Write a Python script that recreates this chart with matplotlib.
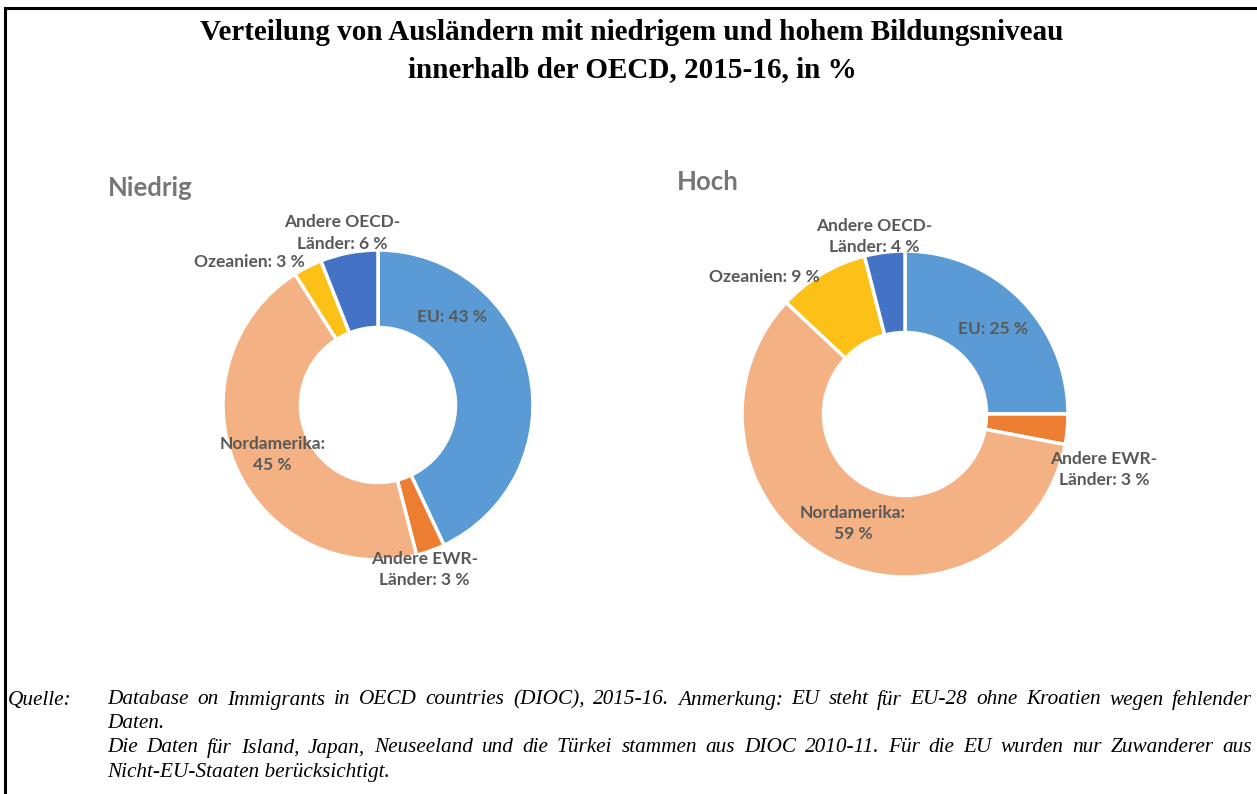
import matplotlib
matplotlib.use("Agg")
import matplotlib.pyplot as plt
from matplotlib.lines import Line2D

# Daten
kategorien = ["EU", "Andere EWR-Länder", "Nordamerika", "Ozeanien", "Andere OECD-Länder"]
niedrig = [43, 3, 45, 3, 6]
hoch = [25, 3, 59, 9, 4]
labels_niedrig = ["EU: 43 %", "Andere EWR-\nLänder: 3 %", "Nordamerika:\n45 %", "Ozeanien: 3 %", "Andere OECD-\nLänder: 6 %"]
labels_hoch = ["EU: 25 %", "Andere EWR-\nLänder: 3 %", "Nordamerika:\n59 %", "Ozeanien: 9 %", "Andere OECD-\nLänder: 4 %"]
farben = ["#5B9BD5", "#ED7D31", "#F4B183", "#FCC016", "#4472C4"]

titel = "Verteilung von Ausländern mit niedrigem und hohem Bildungsniveau\ninnerhalb der OECD, 2015-16, in %"
fussnote = [
    ("Database on Immigrants in OECD countries (DIOC), 2015-16. Anmerkung: EU steht für EU-28 ohne Kroatien wegen fehlender", True),
    ("Daten.", False),
    ("Die Daten für Island, Japan, Neuseeland und die Türkei stammen aus DIOC 2010-11. Für die EU wurden nur Zuwanderer aus", True),
    ("Nicht-EU-Staaten berücksichtigt.", False),
]

W, H = 1257, 794
fig = plt.figure(figsize=(W / 100, H / 100), dpi=100)

def px_axes(cx, cy, r):
    return fig.add_axes([(cx - r) / W, (H - cy - r) / H, 2 * r / W, 2 * r / H])

# Rahmen oben und links
fig.add_artist(Line2D([5 / W, 1], [1 - 8 / H, 1 - 8 / H], color="black", lw=2.2))
fig.add_artist(Line2D([5 / W, 5 / W], [0, 1 - 8 / H], color="black", lw=2.2))

fig.text(632 / W, 1 - 51 / H, titel, ha="center", va="center", fontsize=21, fontweight="bold",
         family="Liberation Serif", linespacing=1.5)

label_grau = "#595959"

def donut(ax, werte, labels, pos, name, name_xy):
    ax.pie(werte, colors=farben, startangle=90, counterclock=False, radius=1,
           wedgeprops=dict(width=0.5, edgecolor="white", linewidth=2.5))
    ax.set_xlim(-1, 1)
    ax.set_ylim(-1, 1)
    ax.set_aspect("equal")
    ax.axis("off")
    for lab, (x, y) in zip(labels, pos):
        ax.text(x, y, lab, ha="center", va="center", fontsize=12.5, fontweight="bold",
                color=label_grau, family="Lato", linespacing=1.4, clip_on=False)
    fig.text(name_xy[0] / W, 1 - name_xy[1] / H, name, ha="left", va="center",
             fontsize=18.5, fontweight="bold", color="#767676", family="Lato")

ax1 = px_axes(378, 405, 155)
donut(ax1, niedrig, labels_niedrig,
      [(0.48, 0.57), (0.30, -1.06), (-0.68, -0.32), (-0.83, 0.92), (-0.23, 1.11)],
      "Niedrig", (108, 188))

ax2 = px_axes(905, 414, 163)
donut(ax2, hoch, labels_hoch,
      [(0.54, 0.52), (1.22, -0.34), (-0.32, -0.67), (-0.86, 0.84), (-0.19, 1.09)],
      "Hoch", (677, 182))

# Fussnote (Blocksatz)
fs = dict(fontsize=15.3, style="italic", family="Liberation Serif", color="black")
fig.text(8 / W, 1 - 700 / H, "Quelle:", ha="left", va="center", **fs)
renderer = fig.canvas.get_renderer()
x0, x1 = 107, 1252
for i, (zeile, block) in enumerate(fussnote):
    y = 1 - (700 + 24 * i) / H
    if not block:
        fig.text(x0 / W, y, zeile, ha="left", va="center", **fs)
        continue
    woerter = zeile.split(" ")
    texte = [fig.text(0, y, w, ha="left", va="center", **fs) for w in woerter]
    breiten = [t.get_window_extent(renderer).width for t in texte]
    luecke = (x1 - x0 - sum(breiten)) / (len(woerter) - 1)
    x = x0
    for t, b in zip(texte, breiten):
        t.set_x(x / W)
        x += b + luecke

fig.savefig("out.png", dpi=100)
